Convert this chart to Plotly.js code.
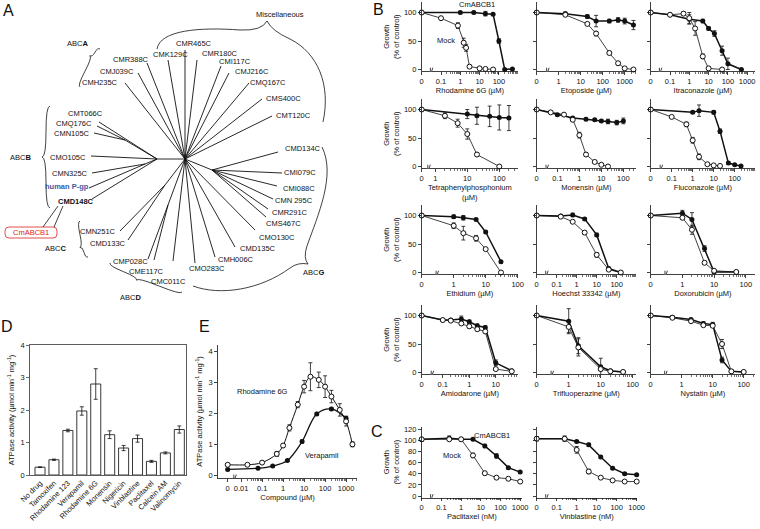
<!DOCTYPE html>
<html>
<head>
<meta charset="utf-8">
<script src="https://cdn.plot.ly/plotly-3.0.1.min.js"></script>
<style>
html, body { margin: 0; padding: 0; background: #fff; }
#chart { width: 760px; height: 529px; }
</style>
</head>
<body>
<div id="chart"></div>
<script>
// ---------- A: ABC transporter tree ----------
var nodeX = [185, 157, 125, 145, 212, 165, 168];
var nodeY = [159, 159, 140, 164, 170, 185, 205];
var nodeParent = [-1, 0, 1, 1, 0, 0, 0];

var leafNames = ['CMH235C','CMJ039C','CMR388C','CMK129C','CMR465C','CMR180C','CMI117C','CMJ216C','CMQ167C','CMS400C','CMT120C',
  'CMT066C','CMQ176C','CMN105C','CMO105C','CMN325C','human P-gp','CMD148C',
  'CMN251C','CMD133C','CMP028C','CME117C','CMC011C','CMO283C','CMH006C','CMD135C','CMO130C',
  'CMS467C','CMR291C','CMN 295C','CMI088C','CMI079C','CMD134C'];
var leafLabelX = [100,117,131,170,194,220,235,252,268,283,293, 85,74,72,68,70,67,76, 98,108,130,146,168,207,236,258,277, 283,290,294,299,300,303];
var leafLabelY = [82,71,59,54,43,53,61,71,82,98,115, 113,123,133,157,173,186,201, 231,243,261,271,281,268,259,248,237, 223,212,200,188,172,148];
var leafEndX = [125,138,147,168,185,197,221,229,249,262,272, 99,97,94,91,92,89,92, 120,128,148,154,173,195,215,235,255, 266,268,273,277,282,278];
var leafEndY = [83,73,63,60,50,60,66,73,83,99,116, 122,126,133,156,173,188,199, 231,240,259,260,261,263,257,247,230, 217,209,199,186,173,152];
var leafParent = [0,0,0,0,0,0,0,0,0,0,0, 1,2,2,1,3,3,1, 5,5,6,6,0,0,0,0,0, 4,4,4,4,4,4];

// ---------- B: growth curves (% of control), µM ----------
var r6gMockX = [0, 0.1, 0.75, 1.5, 2, 3, 10, 20, 50];
var r6gMockY = [100, 90, 77, 47, 38, 5, 2, 1, 0];
var r6gMockE = [0, 2, 5, 8, 6, 2, 0, 0, 0];
var r6gCmX = [0, 1, 5, 20, 50, 100, 200, 500];
var r6gCmY = [100, 100, 100, 98, 97, 50, 0, 1];
var r6gCmE = [0, 2, 2, 4, 2, 4, 0, 0];

var etoMockX = [0, 2, 20, 50, 200, 500, 1000, 2500];
var etoMockY = [100, 96, 80, 63, 29, 11, 2, 0];
var etoMockE = [0, 3, 2, 4, 3, 3, 2, 0];
var etoCmX = [0, 2, 20, 50, 200, 500, 1000, 2500];
var etoCmY = [100, 98, 93, 85, 85, 87, 85, 78];
var etoCmE = [0, 3, 3, 10, 3, 4, 5, 8];

var itrMockX = [0, 0.1, 0.5, 1, 2, 5, 10, 50];
var itrMockY = [100, 96, 98, 90, 72, 23, 2, 0];
var itrMockE = [0, 2, 3, 10, 12, 4, 2, 0];
var itrCmX = [0, 0.1, 1, 5, 10, 20, 50, 100, 500];
var itrCmY = [100, 96, 88, 85, 72, 63, 33, 10, 0];
var itrCmE = [0, 2, 8, 3, 3, 5, 8, 10, 0];

var tppMockX = [0, 2, 5, 10, 20, 100];
var tppMockY = [100, 89, 76, 57, 21, 0];
var tppMockE = [0, 5, 7, 9, 3, 0];
var tppCmX = [0, 10, 20, 50, 100, 200];
var tppCmY = [100, 92, 89, 88, 86, 85];
var tppCmE = [0, 8, 15, 18, 22, 22];

var monMockX = [0, 0.05, 0.2, 0.5, 1, 2, 5, 10, 20];
var monMockY = [100, 95, 91, 82, 55, 21, 8, 3, 0];
var monMockE = [0, 2, 2, 3, 5, 3, 1, 0, 0];
var monCmX = [0, 0.1, 0.5, 2, 5, 10, 20, 50, 100];
var monCmY = [100, 91, 85, 83, 82, 80, 79, 77, 80];
var monCmE = [0, 2, 2, 2, 2, 2, 4, 4, 5];

var fluMockX = [0, 0.1, 0.5, 1, 2, 5, 10, 20];
var fluMockY = [100, 87, 74, 46, 17, 4, 2, 1];
var fluMockE = [0, 1, 4, 5, 5, 1, 0, 0];
var fluCmX = [0, 1, 2, 10, 20, 50, 100, 200];
var fluCmY = [100, 95, 98, 95, 62, 6, 3, 1];
var fluCmE = [0, 2, 10, 3, 4, 2, 0, 0];

var ethMockX = [0, 1, 2, 5, 10, 30];
var ethMockY = [100, 82, 69, 60, 41, 0];
var ethMockE = [0, 5, 12, 5, 2, 0];
var ethCmX = [0, 1, 2, 5, 10, 30];
var ethCmY = [100, 98, 96, 93, 71, 19];
var ethCmE = [0, 3, 4, 2, 2, 2];

var hoeMockX = [0, 0.16, 0.63, 2.5, 10, 40, 160];
var hoeMockY = [100, 98, 89, 70, 31, 5, 0];
var hoeMockE = [0, 2, 2, 3, 4, 1, 0];
var hoeCmX = [0, 0.16, 0.63, 2.5, 10, 40, 160];
var hoeCmY = [100, 99, 101, 94, 66, 7, 0];
var hoeCmE = [0, 2, 3, 2, 3, 2, 0];

var doxMockX = [0, 1, 2, 5, 10, 50];
var doxMockY = [100, 96, 75, 17, 3, 1];
var doxMockE = [0, 3, 8, 3, 1, 0];
var doxCmX = [0, 1, 2, 5, 10, 50];
var doxCmY = [100, 104, 93, 42, 1, 1];
var doxCmE = [0, 5, 12, 5, 1, 0];

var amiMockX = [0, 0.1, 0.2, 0.5, 1, 2, 4, 10, 40];
var amiMockY = [100, 92, 91, 86, 81, 76, 72, 6, 2];
var amiMockE = [0, 1, 2, 3, 3, 3, 3, 2, 0];
var amiCmX = [0, 0.1, 0.2, 0.5, 1, 2, 4, 10, 40];
var amiCmY = [100, 92, 92, 94, 89, 82, 79, 17, 3];
var amiCmE = [0, 2, 2, 5, 3, 3, 3, 5, 1];

var triMockX = [0, 1, 2, 10, 20, 50];
var triMockY = [100, 80, 44, 6, 2, 1];
var triMockE = [0, 10, 15, 3, 0, 0];
var triCmX = [0, 1, 2, 10, 20, 50];
var triCmY = [100, 90, 47, 10, 3, 1];
var triCmE = [0, 22, 14, 15, 2, 0];

var nysMockX = [0, 0.5, 2, 5, 10, 20, 40, 100];
var nysMockY = [100, 96, 90, 83, 82, 50, 2, 1];
var nysMockE = [0, 2, 2, 2, 3, 8, 0, 0];
var nysCmX = [0, 0.5, 2, 5, 10, 20, 40, 100];
var nysCmY = [100, 97, 93, 86, 84, 22, 2, 1];
var nysCmE = [0, 2, 2, 3, 4, 5, 1, 0];

// ---------- C: growth curves, nM ----------
var ptxMockX = [0, 0.25, 1, 4, 16, 62.5, 250, 1000];
var ptxMockY = [102, 102, 102, 73, 41, 33, 31, 26];
var ptxMockE = [3, 2, 2, 4, 3, 2, 1, 1];
var ptxCmX = [0, 0.25, 1, 4, 16, 62.5, 250, 1000];
var ptxCmY = [102, 104, 102, 102, 90, 72, 51, 43];
var ptxCmE = [3, 4, 2, 2, 3, 4, 2, 2];

var vblMockX = [0, 0.25, 1, 4, 16, 62.5, 250, 1000];
var vblMockY = [103, 103, 83, 44, 33, 28, 26, 26];
var vblMockE = [3, 2, 6, 4, 2, 1, 1, 2];
var vblCmX = [0, 0.25, 1, 4, 16, 62.5, 250, 1000];
var vblCmY = [103, 103, 98, 92, 70, 50, 40, 38];
var vblCmE = [4, 5, 2, 3, 2, 2, 2, 2];

// ---------- D: ATPase activity ----------
var atpLabels = ['No drug', 'Tamoxifen', 'Rhodamine 123', 'Verapamil', 'Rhodamine 6G', 'Monensin', 'Nigericin', 'Vinblastine', 'Paclitaxel', 'Calcein AM', 'Valinomycin'];
var atpValues = [0.24, 0.47, 1.37, 1.97, 2.8, 1.24, 0.83, 1.12, 0.42, 0.68, 1.40];
var atpErr = [0.01, 0.02, 0.04, 0.13, 0.47, 0.12, 0.08, 0.11, 0.03, 0.03, 0.11];

// ---------- E: ATPase vs concentration ----------
var r6gAtpX = [0, 0.02, 0.1, 0.5, 1, 2, 5, 10, 20, 50, 100, 200, 500, 1000, 2000];
var r6gAtpY = [0.33, 0.33, 0.40, 0.68, 0.95, 1.52, 2.27, 2.85, 3.17, 3.07, 2.85, 2.53, 2.10, 1.73, 0.99];
var r6gAtpE = [0.04, 0.03, 0.04, 0.08, 0.06, 0.1, 0.1, 0.2, 0.45, 0.25, 0.35, 0.2, 0.2, 0.15, 0.08];
var verAtpX = [0, 0.064, 0.32, 1.6, 8, 40, 200, 1000];
var verAtpY = [0.18, 0.22, 0.29, 0.47, 1.08, 1.97, 2.13, 1.82];
var verAtpE = [0.03, 0.02, 0.02, 0.03, 0.05, 0.05, 0.05, 0.08];

// ---------- helpers ----------
function domX(a, b) { return [a / 760, b / 760]; }
function domY(top, bot) { return [1 - bot / 529, 1 - top / 529]; }
function px(a) { return a / 760; }
function py(a) { return 1 - a / 529; }
function lg(v) { return Math.log(v) / Math.LN10; }
function zeroMap(arr, zero) { return arr.map(function (v) { return v === 0 ? zero : v; }); }
function minorVals(first, r1) {
  var out = [];
  for (var d = Math.floor(lg(first)); d <= Math.ceil(r1); d++) {
    for (var k = 2; k <= 9; k++) {
      var v = k * Math.pow(10, d);
      if (lg(v) < r1 && v > first) out.push(v);
    }
  }
  return out;
}

var FONT = 'Liberation Sans, Arial, sans-serif';
var INK = '#111';
var data = [];
var layout = {
  width: 760, height: 529,
  margin: {l: 0, r: 0, t: 0, b: 0},
  showlegend: false,
  paper_bgcolor: '#fff', plot_bgcolor: 'rgba(0,0,0,0)',
  font: {family: FONT, size: 7.5, color: INK},
  annotations: [], shapes: []
};

function errBar(arr) {
  return {type: 'data', array: arr, visible: true, color: INK, thickness: 0.8, width: 2};
}

// ---------- tree ----------
var tx = [], ty = [];
for (var i = 0; i < nodeX.length; i++) {
  if (nodeParent[i] < 0) continue;
  tx.push(nodeX[i], nodeX[nodeParent[i]], null);
  ty.push(nodeY[i], nodeY[nodeParent[i]], null);
}
for (var i = 0; i < leafNames.length; i++) {
  tx.push(leafEndX[i], nodeX[leafParent[i]], null);
  ty.push(leafEndY[i], nodeY[leafParent[i]], null);
}
data.push({x: tx, y: ty, mode: 'lines', line: {color: INK, width: 0.9}, hoverinfo: 'skip', cliponaxis: false, xaxis: 'x', yaxis: 'y'});
layout.xaxis = {domain: domX(0, 370), range: [0, 370], visible: false, fixedrange: true};
layout.yaxis = {domain: domY(0, 310), range: [310, 0], visible: false, fixedrange: true};

for (var i = 0; i < leafNames.length; i++) {
  var txt = leafNames[i], col = INK;
  if (txt === 'CMD148C') txt = '<b>' + txt + '</b>';
  if (txt === 'human P-gp') { txt = '<b>' + txt + '</b>'; col = '#3a5aa8'; }
  layout.annotations.push({x: leafLabelX[i], y: leafLabelY[i], xref: 'x', yref: 'y', text: txt, showarrow: false, font: {size: 7.5, color: col}});
}
var groupText = ['ABC<b>A</b>', 'ABC<b>B</b>', 'ABC<b>C</b>', 'ABC<b>D</b>', 'ABC<b>G</b>', 'Miscellaneous'];
var groupPos = [[77, 43], [20, 157], [55, 248], [130, 297], [313, 272], [280, 14]];
groupText.forEach(function (t, k) {
  layout.annotations.push({x: groupPos[k][0], y: groupPos[k][1], xref: 'x', yref: 'y', text: t, showarrow: false, font: {size: 7.5, color: INK}});
});
layout.annotations.push({x: 31, y: 232.5, xref: 'x', yref: 'y', text: 'CmABCB1', showarrow: false, font: {size: 7.5, color: '#d22'}});

function brace(p1, p2, n, f) {
  var q = [p1[0] + f * (p2[0] - p1[0]), p1[1] + f * (p2[1] - p1[1])];
  function half(p) {
    return 'M' + p[0] + ',' + p[1] +
      ' Q' + (p[0] + n[0]) + ',' + (p[1] + n[1]) + ' ' + ((p[0] + q[0]) / 2 + n[0]) + ',' + ((p[1] + q[1]) / 2 + n[1]) +
      ' Q' + (q[0] + n[0]) + ',' + (q[1] + n[1]) + ' ' + (q[0] + 2 * n[0]) + ',' + (q[1] + 2 * n[1]);
  }
  return half(p1) + ' ' + half(p2);
}
var bracePaths = [
  brace([100, 49], [80, 87], [-2.6, -1.4], 0.25),
  brace([50, 106], [50, 208], [-4, 0], 0.5),
  brace([80, 221], [88, 257], [-2.9, 0.6], 0.7),
  brace([110, 263], [182, 292], [-1.1, 2.8], 0.4),
  'M157,49 C160,30 200,27 240,30 Q262,31 267,21 Q272,31 290,39 C318,53 331,85 323,122',
  'M322,147 C336,175 318,215 307,246 Q303,258 308,264 Q298,262 290,268 C260,290 220,296 193,286'
];
bracePaths.forEach(function (p) {
  layout.shapes.push({type: 'path', path: p, xref: 'x', yref: 'y', line: {color: INK, width: 0.8}});
});
layout.shapes.push({type: 'path', xref: 'x', yref: 'y', path: 'M9,227 L53,227 Q57,227 57,231 L57,234 Q57,238 53,238 L9,238 Q5,238 5,234 L5,231 Q5,227 9,227 Z', line: {color: '#d22', width: 0.8}, fillcolor: 'rgba(0,0,0,0)'});
layout.shapes.push({type: 'line', xref: 'x', yref: 'y', x0: 58, y0: 206, x1: 43, y1: 227, line: {color: INK, width: 0.8}});
layout.shapes.push({type: 'line', xref: 'x', yref: 'y', x0: 63, y0: 206, x1: 54, y1: 227, line: {color: INK, width: 0.8}});

// ---------- growth panels (B and C) ----------
var colDom = [[421.7, 518], [536.7, 636], [650.7, 755]];
var rowZero = [69.5, 166.5, 272.5, 372.5];
var cColDom = [[421.7, 522], [536.7, 637]];

var growthPanels = [
  {t: 'Rhodamine 6G (µM)', c: 0, r: 0, zero: 0.01, dec: 19.3, ticks: [0.1, 1, 10, 100], mx: r6gMockX, my: r6gMockY, me: r6gMockE, cx: r6gCmX, cy: r6gCmY, ce: r6gCmE},
  {t: 'Etoposide (µM)', c: 1, r: 0, zero: 0.1, dec: 22, ticks: [1, 10, 100, 1000], mx: etoMockX, my: etoMockY, me: etoMockE, cx: etoCmX, cy: etoCmY, ce: etoCmE},
  {t: 'Itraconazole (µM)', c: 2, r: 0, zero: 0.01, dec: 19.3, ticks: [0.1, 1, 10, 100, 1000], mx: itrMockX, my: itrMockY, me: itrMockE, cx: itrCmX, cy: itrCmY, ce: itrCmE},
  {t: 'Tetraphenylphosphonium<br>(µM)', c: 0, r: 1, zero: 0.376, dec: 32, ticks: [1, 10, 100], mx: tppMockX, my: tppMockY, me: tppMockE, cx: tppCmX, cy: tppCmY, ce: tppCmE},
  {t: 'Monensin (µM)', c: 1, r: 1, zero: 0.0115, dec: 22, ticks: [0.1, 1, 10, 100], mx: monMockX, my: monMockY, me: monMockE, cx: monCmX, cy: monCmY, ce: monCmE},
  {t: 'Fluconazole (µM)', c: 2, r: 1, zero: 0.01, dec: 21, ticks: [0.1, 1, 10, 100], mx: fluMockX, my: fluMockY, me: fluMockE, cx: fluCmX, cy: fluCmY, ce: fluCmE},
  {t: 'Ethidium (µM)', c: 0, r: 2, zero: 0.1, dec: 32, ticks: [1, 10, 100], mx: ethMockX, my: ethMockY, me: ethMockE, cx: ethCmX, cy: ethCmY, ce: ethCmE},
  {t: 'Hoechst 33342 (µM)', c: 1, r: 2, zero: 0.01, dec: 20, ticks: [0.1, 1, 10, 100], mx: hoeMockX, my: hoeMockY, me: hoeMockE, cx: hoeCmX, cy: hoeCmY, ce: hoeCmE},
  {t: 'Doxorubicin (µM)', c: 2, r: 2, zero: 0.1, dec: 31.7, ticks: [1, 10, 100], mx: doxMockX, my: doxMockY, me: doxMockE, cx: doxCmX, cy: doxCmY, ce: doxCmE},
  {t: 'Amiodarone (µM)', c: 0, r: 3, zero: 0.016, dec: 26.5, ticks: [0.1, 1, 10], mx: amiMockX, my: amiMockY, me: amiMockE, cx: amiCmX, cy: amiCmY, ce: amiCmE},
  {t: 'Trifluoperazine (µM)', c: 1, r: 3, zero: 0.1, dec: 32, ticks: [1, 10, 100], mx: triMockX, my: triMockY, me: triMockE, cx: triCmX, cy: triCmY, ce: triCmE},
  {t: 'Nystatin (µM)', c: 2, r: 3, zero: 0.1, dec: 31, ticks: [1, 10, 100], mx: nysMockX, my: nysMockY, me: nysMockE, cx: nysCmX, cy: nysCmY, ce: nysCmE},
  {t: 'Paclitaxel (nM)', c: 0, r: 'C', zero: 0.01, dec: 19.7, ticks: [0.1, 1, 10, 100, 1000], mx: ptxMockX, my: ptxMockY, me: ptxMockE, cx: ptxCmX, cy: ptxCmY, ce: ptxCmE},
  {t: 'Vinblastine (nM)', c: 1, r: 'C', zero: 0.01, dec: 20, ticks: [0.1, 1, 10, 100, 1000], mx: vblMockX, my: vblMockY, me: vblMockE, cx: vblCmX, cy: vblCmY, ce: vblCmE}
];

// axis break "//" on the x axis, next to the zero position
function addBreak(xr, yr, xb, ybase) {
  layout.shapes.push({type: 'line', xref: xr, yref: yr, xsizemode: 'pixel', ysizemode: 'pixel',
    xanchor: xb, yanchor: ybase, x0: -2, x1: 1, y0: -2, y1: 2, line: {color: '#fff', width: 2.5}});
  [-2, 1].forEach(function (off) {
    layout.shapes.push({type: 'line', xref: xr, yref: yr, xsizemode: 'pixel', ysizemode: 'pixel',
      xanchor: xb, yanchor: ybase, x0: off - 1.5, x1: off + 1.5, y0: -3.5, y1: 3.5, line: {color: INK, width: 0.8}});
  });
}

function logAxis(n, dom, zero, dec, ticks, title) {
  var r0 = lg(zero);
  var r1 = r0 + (dom[1] - dom[0]) / dec;
  return {
    domain: domX(dom[0], dom[1]), type: 'log', range: [r0, r1], anchor: 'y' + n,
    tickmode: 'array', tickvals: [zero].concat(ticks), ticktext: ['0'].concat(ticks.map(String)),
    ticks: 'outside', ticklen: 3, tickwidth: 0.8, tickcolor: INK,
    minor: {tickmode: 'array', tickvals: minorVals(ticks[0], r1), ticks: 'outside', ticklen: 1.8, tickwidth: 0.6, tickcolor: INK, showgrid: false},
    showline: true, linecolor: INK, linewidth: 0.8, showgrid: false, zeroline: false, fixedrange: true,
    tickfont: {size: 7.5, color: INK}, title: {text: title, font: {size: 7.5, color: INK}, standoff: 2}
  };
}

growthPanels.forEach(function (p, k) {
  var n = k + 2;
  var xr = 'x' + n, yr = 'y' + n;
  var dom, top, bot, yrange, ytv;
  if (p.r === 'C') {
    dom = cColDom[p.c];
    yrange = [-3, 125];
    top = 496 - 125 * 0.556; bot = 496 + 3 * 0.556;
    ytv = [0, 20, 40, 60, 80, 100, 120];
  } else {
    dom = colDom[p.c];
    yrange = [-3, 118];
    top = rowZero[p.r] - 118 * 0.57; bot = rowZero[p.r] + 3 * 0.57;
    ytv = [0, 50, 100];
  }
  layout['xaxis' + n] = logAxis(n, dom, p.zero, p.dec, p.ticks, p.t);
  var yax = {
    domain: domY(top, bot), range: yrange, anchor: 'x' + n, tickvals: ytv,
    ticks: 'outside', ticklen: 3, tickwidth: 0.8, tickcolor: INK, showticklabels: p.c === 0,
    showline: true, linecolor: INK, linewidth: 0.8, showgrid: false, zeroline: false, fixedrange: true,
    tickfont: {size: 7.5, color: INK}
  };
  if (p.c === 0) yax.title = {text: 'Growth<br>(% of control)', font: {size: 7.5, color: INK}, standoff: 3};
  layout['yaxis' + n] = yax;
  data.push({x: zeroMap(p.cx, p.zero), y: p.cy, error_y: errBar(p.ce), mode: 'lines+markers', xaxis: xr, yaxis: yr, cliponaxis: false,
    line: {color: INK, width: 1.5}, marker: {symbol: 'circle', size: 5, color: INK}});
  data.push({x: zeroMap(p.mx, p.zero), y: p.my, error_y: errBar(p.me), mode: 'lines+markers', xaxis: xr, yaxis: yr, cliponaxis: false,
    line: {color: INK, width: 0.8}, marker: {symbol: 'circle', size: 5, color: '#fff', line: {color: INK, width: 1}}});
  addBreak(xr, yr, Math.pow(10, lg(p.zero) + 0.45 * (lg(p.ticks[0]) - lg(p.zero))), yrange[0]);
});

// ---------- D ----------
data.push({type: 'bar', x: atpLabels, y: atpValues, error_y: errBar(atpErr), width: 0.72, xaxis: 'x16', yaxis: 'y16',
  marker: {color: '#fff', line: {color: '#222', width: 0.9}}});
layout.xaxis16 = {domain: domX(30, 186), range: [-0.72, 10.48], anchor: 'y16', type: 'category', tickangle: -45, ticks: '',
  showline: true, mirror: true, linecolor: '#333', linewidth: 0.8, showgrid: false, fixedrange: true, tickfont: {size: 7.5, color: INK}};
layout.yaxis16 = {domain: domY(345, 475), range: [0, 4], anchor: 'x16', tickvals: [0, 1, 2, 3, 4], ticks: 'outside', ticklen: 3,
  tickwidth: 0.8, showline: true, mirror: true, linecolor: '#333', linewidth: 0.8, showgrid: false, zeroline: false, fixedrange: true,
  tickfont: {size: 7.5, color: INK}, title: {text: 'ATPase activity (µmol min<sup>-1</sup> mg<sup>-1</sup>)', font: {size: 7.5, color: INK}, standoff: 4}};

// ---------- E ----------
var eZero = 0.0023;
var eAx = logAxis(17, [218, 357], eZero, 21, [0.01, 0.1, 1, 10, 100, 1000], 'Compound (µM)');
eAx.range = [lg(eZero) - 9.7 / 21, lg(eZero) - 9.7 / 21 + 139 / 21];
eAx.minor.tickvals = minorVals(0.01, eAx.range[1]);
layout.xaxis17 = eAx;
layout.yaxis17 = {domain: domY(344.8, 478.1), range: [-0.1, 4.2], anchor: 'x17', tickvals: [0, 1, 2, 3, 4], ticks: 'outside', ticklen: 3,
  tickwidth: 0.8, tickcolor: INK, showline: true, linecolor: INK, linewidth: 0.8, showgrid: false, zeroline: false, fixedrange: true,
  tickfont: {size: 7.5, color: INK}, title: {text: 'ATPase activity (µmol min<sup>-1</sup> mg<sup>-1</sup>)', font: {size: 7.5, color: INK}, standoff: 4}};
data.push({x: zeroMap(verAtpX, eZero), y: verAtpY, error_y: errBar(verAtpE), mode: 'lines+markers', xaxis: 'x17', yaxis: 'y17', cliponaxis: false,
  line: {color: INK, width: 1.3, shape: 'spline', smoothing: 1}, marker: {size: 5, color: INK}});
data.push({x: zeroMap(r6gAtpX, eZero), y: r6gAtpY, error_y: errBar(r6gAtpE), mode: 'lines+markers', xaxis: 'x17', yaxis: 'y17', cliponaxis: false,
  line: {color: INK, width: 1, shape: 'spline', smoothing: 1}, marker: {size: 5, color: '#fff', line: {color: INK, width: 1}}});
addBreak('x17', 'y17', 0.0045, -0.1);

// ---------- text labels ----------
function paperText(x, y, t, size) {
  layout.annotations.push({x: px(x), y: py(y), xref: 'paper', yref: 'paper', text: t, showarrow: false,
    xanchor: 'center', yanchor: 'middle', font: {size: size, color: INK}});
}
paperText(8, 11, 'A', 16);
paperText(378, 9, 'B', 16);
paperText(377, 431, 'C', 16);
paperText(7, 326, 'D', 16);
paperText(204, 326, 'E', 16);
paperText(477, 5, 'CmABCB1', 7.5);
paperText(446, 40, 'Mock', 7.5);
paperText(492, 435, 'CmABCB1', 7.5);
paperText(452, 455, 'Mock', 7.5);
paperText(262, 391, 'Rhodamine 6G', 7.5);
paperText(322, 455, 'Verapamil', 7.5);

Plotly.newPlot('chart', data, layout, {displayModeBar: false, responsive: false, staticPlot: true});
</script>
</body>
</html>
